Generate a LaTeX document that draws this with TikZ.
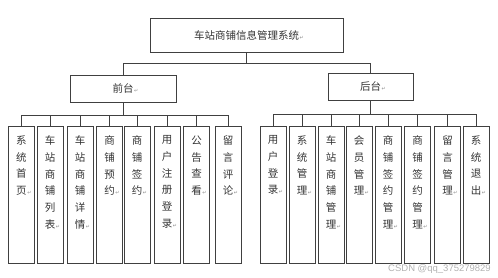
\documentclass[tikz,border=0pt]{standalone}
\usepackage{fontspec}
\setmainfont{Noto Sans CJK SC}
\newfontfamily\dejavu{DejaVu Sans}
\newfontfamily\wmfont{Liberation Sans}
\usetikzlibrary{positioning}

% small paragraph mark after each text
\newcommand\pmark{\rlap{\kern0.6pt{\dejavu\fontsize{5}{5}\selectfont\textcolor{black!45}{↵}}}}

\tikzset{
  box/.style={draw=black!75, line width=0.8pt, rectangle, inner sep=0pt,
              font=\fontsize{10.5}{12}\selectfont, text=black!80},
  leaf/.style={box, minimum width=26pt, minimum height=137pt},
  leaftxt/.style={inner sep=0pt, align=center, anchor=north,
                  font=\fontsize{10.5}{16.7}\selectfont, text=black!80},
  conn/.style={draw=black!75, line width=0.8pt},
}

\begin{document}
\begin{tikzpicture}[x=1pt, y=-1pt]
\useasboundingbox (0,0) rectangle (498,278);

% Root
\node[box, minimum width=193pt, minimum height=34pt] (root) at (246.5,35) {车站商铺信息管理系统\pmark};

% Second level
\node[box, minimum width=106pt, minimum height=27pt] (qt) at (123,88.5) {前台\pmark};
\node[box, minimum width=85pt,  minimum height=27pt] (ht) at (370.5,86.5) {后台\pmark};

% Front leaves
\node[leaf] (f1) at (21.5,194.5) {};
\node[leaf] (f2) at (50,194.5) {};
\node[leaf] (f3) at (80,194.5) {};
\node[leaf] (f4) at (109.5,194.5) {};
\node[leaf] (f5) at (137,194.5) {};
\node[leaf] (f6) at (167,194.5) {};
\node[leaf] (f7) at (196.5,194.5) {};
\node[leaf] (f8) at (228,194.5) {};

\node[leaftxt] (f1t) at ([yshift=-10pt]f1.north) {系\\统\\首\\页\pmark};
\node[leaftxt] (f2t) at ([yshift=-10pt]f2.north) {车\\站\\商\\铺\\列\\表\pmark};
\node[leaftxt] (f3t) at ([yshift=-10pt]f3.north) {车\\站\\商\\铺\\详\\情\pmark};
\node[leaftxt] (f4t) at ([yshift=-10pt]f4.north) {商\\铺\\预\\约\pmark};
\node[leaftxt] (f5t) at ([yshift=-10pt]f5.north) {商\\铺\\签\\约\pmark};
\node[leaftxt] (f6t) at ([yshift=-10pt]f6.north) {用\\户\\注\\册\\登\\录\pmark};
\node[leaftxt] (f7t) at ([yshift=-10pt]f7.north) {公\\告\\查\\看\pmark};
\node[leaftxt] (f8t) at ([yshift=-10pt]f8.north) {留\\言\\评\\论\pmark};

% Back leaves
\node[leaf] (b1) at (273,194.5) {};
\node[leaf] (b2) at (302,194.5) {};
\node[leaf] (b3) at (331,194.5) {};
\node[leaf] (b4) at (359,194.5) {};
\node[leaf] (b5) at (388,194.5) {};
\node[leaf] (b6) at (417.5,194.5) {};
\node[leaf] (b7) at (447.5,194.5) {};
\node[leaf] (b8) at (476,194.5) {};

\node[leaftxt] (b1t) at ([yshift=-10pt]b1.north) {用\\户\\登\\录\pmark};
\node[leaftxt] (b2t) at ([yshift=-10pt]b2.north) {系\\统\\管\\理\pmark};
\node[leaftxt] (b3t) at ([yshift=-10pt]b3.north) {车\\站\\商\\铺\\管\\理\pmark};
\node[leaftxt] (b4t) at ([yshift=-10pt]b4.north) {会\\员\\管\\理\pmark};
\node[leaftxt] (b5t) at ([yshift=-10pt]b5.north) {商\\铺\\签\\约\\管\\理\pmark};
\node[leaftxt] (b6t) at ([yshift=-10pt]b6.north) {商\\铺\\签\\约\\管\\理\pmark};
\node[leaftxt] (b7t) at ([yshift=-10pt]b7.north) {留\\言\\管\\理\pmark};
\node[leaftxt] (b8t) at ([yshift=-10pt]b8.north) {系\\统\\退\\出\pmark};

% Connectors
\draw[conn] (root.south) -- ++(0,11) -| (qt.north);
\draw[conn] (root.south) -- ++(0,11) -| (ht.north);
\foreach \i in {1,...,8} {
  \draw[conn] (qt.south) -- ++(0,13) -| (f\i.north);
  \draw[conn] (ht.south) -- ++(0,14) -| (b\i.north);
}

% Watermark
\node[anchor=east, inner sep=0pt, font=\wmfont\fontsize{9.5}{10}\selectfont, text=black!30] (wm) at (491,269) {CSDN @qq\_375279829};

\end{tikzpicture}
\end{document}
